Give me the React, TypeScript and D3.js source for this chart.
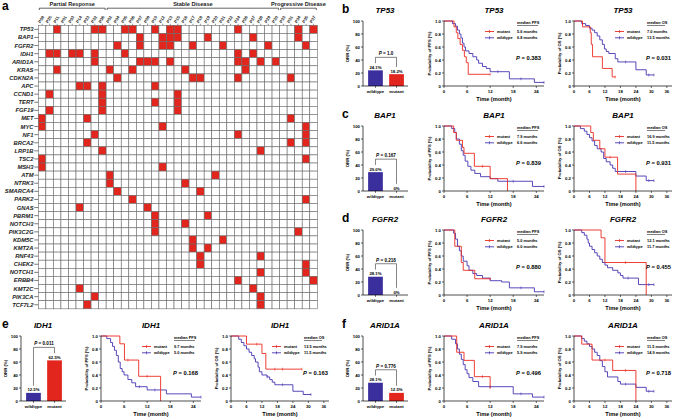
import React from 'react';
import * as d3 from 'd3';

const FONT = "Arial, 'Liberation Sans', Helvetica, sans-serif";
const RED = '#e2261d';
const BLUE = '#3b2f9e';
const LINE_RED = '#ec2a20';
const LINE_BLUE = '#4536b2';

// ---- panel a: mutation landscape ----
const genes = ['TP53', 'BAP1', 'FGFR2', 'IDH1', 'ARID1A', 'KRAS', 'CDKN2A', 'APC', 'CCND1', 'TERT', 'FGF19', 'MET', 'MYC', 'NF1', 'BRCA2', 'LRP1B', 'TSC2', 'MSH3', 'ATM', 'NTRK3', 'SMARCA4', 'PARK2', 'GNAS', 'PBRM1', 'NOTCH3', 'PIK3C2G', 'KDM5C', 'KMT2A', 'RNF43', 'CHEK2', 'NOTCH1', 'ERBB4', 'KMT2C', 'PIK3CA', 'TCF7L2'];
const patients = ['P08', 'P25', 'P11', 'P01', 'P03', 'P14', 'P23', 'P32', 'P36', 'P02', 'P04', 'P05', 'P06', 'P07', 'P09', 'P10', 'P12', 'P13', 'P15', 'P16', 'P17', 'P18', 'P19', 'P20', 'P21', 'P22', 'P24', 'P26', 'P27', 'P28', 'P29', 'P30', 'P33', 'P31', 'P34', 'P35', 'P37'];
const groups = [
  { label: 'Partial Response', from: 0, to: 8 },
  { label: 'Stable Disease', from: 9, to: 31 },
  { label: 'Progressive Disease', from: 32, to: 36 },
];
const mutatedCols: number[][] = [
  [2, 7, 8, 11, 12, 15, 17, 18, 26, 34, 36],
  [13, 16, 17, 18, 22, 28, 34],
  [10, 13, 16, 17, 20, 24, 30, 35],
  [1, 2, 4, 5, 7, 11, 26, 28],
  [7, 13, 14, 15, 17, 26, 27, 29, 31],
  [2, 9, 12, 19, 27],
  [10, 20, 21, 26, 33],
  [5, 6, 8, 15],
  [1, 8, 18],
  [8, 15, 18],
  [1, 8, 18],
  [0, 6, 33],
  [0, 16, 35],
  [7, 26, 35],
  [6, 33, 35],
  [8, 29],
  [0, 35],
  [0, 16],
  [9, 23],
  [9, 19],
  [10, 21],
  [12, 35],
  [5, 14],
  [15, 22],
  [15, 19],
  [15, 34],
  [20, 24],
  [20, 22],
  [21, 29],
  [21, 35],
  [29, 35],
  [26, 36],
  [5, 28],
  [7, 29],
  [6, 29],
];

// ---- panels b-f: ORR and survival by gene ----
const panelGenes = ['TP53', 'BAP1', 'FGFR2', 'IDH1', 'ARID1A'];
const panelLetters = ['b', 'c', 'd', 'e', 'f'];
const orrWildtype = [24.1, 29.0, 28.1, 12.5, 28.1];
const orrMutant = [18.2, 0, 0, 62.5, 12.5];
const orrP = ['1.0', '0.167', '0.218', '0.011', '0.776'];
const pfsMedMut = ['5.6', '7.9', '5.0', '9.7', '7.9'];
const pfsMedWt = ['6.8', '6.6', '6.0', '5.0', '5.9'];
const pfsP = ['0.383', '0.839', '0.880', '0.168', '0.496'];
const osMedMut = ['7.0', '16.9', '12.1', '13.5', '11.5'];
const osMedWt = ['13.5', '11.5', '11.7', '11.5', '14.9'];
const osP = ['0.031', '0.931', '0.455', '0.163', '0.718'];

const pfsMutant = [
  [[0, 1], [2.6, 0.91], [3.2, 0.82], [3.6, 0.73], [4.2, 0.64], [4.8, 0.55], [5.3, 0.45], [5.8, 0.36], [6.3, 0.18], [12, 0.18]],
  [[0, 1], [2.5, 0.9], [3.2, 0.78], [4.8, 0.67], [5.2, 0.58], [7.9, 0.38], [12, 0.19], [16.5, 0]],
  [[0, 1], [2.8, 0.75], [4.5, 0.5], [5, 0.38], [8, 0.25], [12, 0.25]],
  [[0, 1], [4.9, 0.88], [6.1, 0.63], [9.8, 0.38], [15.5, 0]],
  [[0, 1], [3.3, 0.75], [5.2, 0.625], [7.9, 0.375], [12, 0.19]],
];
const pfsWildtype = [
  [[0, 1], [2.2, 0.96], [3, 0.92], [3.5, 0.86], [4, 0.8], [4.4, 0.74], [4.8, 0.66], [5.2, 0.6], [5.6, 0.54], [6.5, 0.5], [7.5, 0.45], [8.5, 0.4], [9, 0.35], [10, 0.3], [11, 0.27], [12, 0.22], [17, 0.11], [23.5, 0.055], [26, 0.055]],
  [[0, 1], [2, 0.96], [2.8, 0.9], [3.2, 0.8], [4, 0.72], [4.5, 0.62], [5, 0.55], [5.5, 0.46], [6.2, 0.38], [7, 0.32], [8, 0.27], [9.5, 0.22], [12, 0.19], [14, 0.15], [23, 0.07], [26, 0.07]],
  [[0, 1], [2.5, 0.95], [3, 0.86], [3.5, 0.75], [4, 0.68], [4.5, 0.6], [5, 0.52], [6, 0.45], [6.5, 0.38], [7.5, 0.33], [8.5, 0.3], [10, 0.26], [12, 0.22], [15, 0.2], [17, 0.11], [23.5, 0.05], [26, 0.05]],
  [[0, 1], [1.5, 0.96], [2.5, 0.9], [3, 0.84], [3.5, 0.78], [4, 0.7], [4.5, 0.6], [5, 0.5], [5.5, 0.45], [6, 0.4], [7, 0.33], [8, 0.28], [9, 0.22], [12, 0.17], [17, 0.11], [23.5, 0.06], [26, 0.06]],
  [[0, 1], [2, 0.95], [3, 0.88], [3.5, 0.8], [4, 0.72], [4.5, 0.64], [5, 0.56], [5.5, 0.48], [6, 0.42], [6.5, 0.36], [7.5, 0.3], [9, 0.22], [18, 0.11], [23, 0.06], [26, 0.06]],
];
const osMutant = [
  [[0, 1], [3.3, 0.91], [6.3, 0.82], [6.7, 0.64], [7.2, 0.45], [11, 0.27], [14.8, 0.14], [16, 0.14]],
  [[0, 1], [6.5, 0.9], [7.5, 0.78], [10, 0.65], [12, 0.52], [16.9, 0.26], [24, 0]],
  [[0, 1], [10.5, 0.88], [12, 0.5], [28, 0]],
  [[0, 1], [6, 0.875], [12, 0.73], [13.5, 0.49], [27.5, 0.49]],
  [[0, 1], [3, 0.875], [7, 0.63], [15, 0.47], [24, 0]],
];
const osWildtype = [
  [[0, 1], [3, 0.96], [4.5, 0.93], [6, 0.89], [7, 0.86], [8, 0.82], [9, 0.77], [10, 0.71], [11, 0.64], [11.8, 0.57], [12.5, 0.53], [13.5, 0.5], [16, 0.42], [17, 0.37], [24, 0.25], [28, 0.17], [31, 0.17]],
  [[0, 1], [2.5, 0.96], [4, 0.92], [5, 0.87], [6, 0.82], [7, 0.77], [8, 0.7], [9, 0.65], [10.5, 0.6], [11.5, 0.5], [12.5, 0.45], [14, 0.4], [15, 0.35], [16, 0.3], [24, 0.23], [28, 0.16], [31, 0.16]],
  [[0, 1], [3, 0.96], [4, 0.92], [5, 0.86], [5.5, 0.8], [6, 0.75], [7, 0.7], [8, 0.65], [9, 0.6], [10, 0.55], [11, 0.5], [12, 0.46], [13, 0.42], [15, 0.38], [17, 0.34], [18, 0.3], [19, 0.26], [25, 0.16], [31, 0.16]],
  [[0, 1], [3, 0.95], [4, 0.9], [5, 0.85], [6, 0.8], [7, 0.75], [8, 0.7], [9, 0.65], [9.5, 0.6], [10.5, 0.52], [11, 0.45], [12, 0.4], [14, 0.37], [15, 0.33], [16, 0.29], [17, 0.25], [24, 0.15], [28, 0.1], [31, 0.1]],
  [[0, 1], [3, 0.96], [4, 0.92], [5, 0.88], [6, 0.84], [7, 0.8], [8, 0.75], [9, 0.7], [10, 0.62], [11, 0.53], [12, 0.45], [13, 0.37], [17, 0.3], [18, 0.26], [24, 0.21], [28, 0.15], [31, 0.15]],
];
// censored observations (months) seen as small ticks on the curves
const pfsCensorMut = [[12], [10], [12], [7, 12], [10]];
const pfsCensorWt = [[14, 20, 26], [18, 26], [20, 26], [10, 14, 26], [12, 20, 26]];
const osCensorMut = [[16], [14], [20], [10, 17, 20, 27.5], [12, 20]];
const osCensorWt = [[20, 29, 31], [20, 29, 31], [21, 29, 31], [14, 20, 31], [20, 29, 31]];

const pfsTicks = [0, 6, 12, 18, 24];
const osTicks = [0, 6, 12, 18, 24, 30, 36];
const survTicks = [0, 0.2, 0.4, 0.6, 0.8, 1.0];
const orrTicks = [0, 20, 40, 60, 80, 100];

// layout of each gene row: letter x, bar axis x, PFS axis x, OS axis x, top of plots
const layout = [
  { lx: 342, bar: 363, pfs: 444, os: 574, top: 21 },
  { lx: 342, bar: 363, pfs: 444, os: 574, top: 126 },
  { lx: 342, bar: 363, pfs: 444, os: 574, top: 230 },
  { lx: 2, bar: 21, pfs: 101, os: 231, top: 336 },
  { lx: 342, bar: 363, pfs: 444, os: 574, top: 336 },
];
const PH = 65;

function Heatmap() {
  const x = d3.scaleBand().domain(patients).range([38.3, 317.3]);
  const y = d3.scaleBand().domain(genes).range([25.3, 308.8]);
  const bw = x.bandwidth();
  const bh = y.bandwidth();
  return (
    <g>
      <text x={2} y={10} fontSize={12} fontWeight="bold">a</text>
      {groups.map(g => {
        const x0 = (x(patients[g.from]) as number) + 1;
        const x1 = (x(patients[g.to]) as number) + bw - 1;
        return (
          <g key={g.label}>
            <text x={(x0 + x1) / 2} y={5.5} fontSize={5.6} fontWeight="bold" textAnchor="middle" fill="#222">{g.label}</text>
            <path d={`M${x0},10 L${x0},8.2 L${x1},8.2 L${x1},10`} fill="none" stroke="#222" strokeWidth={0.7} />
          </g>
        );
      })}
      {patients.map(p => {
        const cx = (x(p) as number) + bw / 2;
        return (
          <g key={p}>
            <line x1={cx} x2={cx} y1={25.3} y2={23.8} stroke="#222" strokeWidth={0.5} />
            <text transform={`translate(${cx - 1.5},23.5) rotate(-60)`} fontSize={4.3} fontWeight="bold" fill="#222">{p}</text>
          </g>
        );
      })}
      {genes.map((gname, gi) => (
        <g key={gname}>
          {patients.map((p, pi) => (
            <rect key={p} x={x(p)} y={y(gname)} width={bw} height={bh}
              fill={mutatedCols[gi].includes(pi) ? RED : '#fff'} stroke="#6a6a6a" strokeWidth={0.6} />
          ))}
          <text x={33.5} y={(y(gname) as number) + bh / 2 + 2} fontSize={5.8} fontWeight="bold" fontStyle="italic" textAnchor="end" fill="#222">{gname}</text>
          <line x1={34.3} x2={38.3} y1={(y(gname) as number) + bh / 2} y2={(y(gname) as number) + bh / 2} stroke="#222" strokeWidth={0.6} />
        </g>
      ))}
    </g>
  );
}

function OrrBar({ i }: { i: number }) {
  const L = layout[i];
  const yS = d3.scaleLinear().domain([0, 100]).range([L.top + PH, L.top]);
  const xS = d3.scaleBand().domain(['wildtype', 'mutant']).range([L.bar + 3, L.bar + 43]).paddingInner(0.3).paddingOuter(0.1);
  const vals = [orrWildtype[i], orrMutant[i]];
  const bw = xS.bandwidth();
  const cx = (k: string) => (xS(k) as number) + bw / 2;
  const top = Math.max(...vals) + 20;
  const legL = Math.min(vals[0] + 11, top - 3);
  const legR = Math.min(vals[1] + 11, top - 3);
  return (
    <g>
      <text x={L.bar + 22} y={L.top - 8} fontSize={8} fontWeight="bold" fontStyle="italic" textAnchor="middle">{panelGenes[i]}</text>
      {['wildtype', 'mutant'].map((k, j) => (
        <g key={k}>
          <rect x={xS(k)} y={yS(vals[j])} width={bw} height={yS(0) - yS(vals[j])} fill={j === 0 ? BLUE : RED} />
          <text x={cx(k)} y={yS(vals[j]) - 1.5} fontSize={4.3} fontWeight="bold" textAnchor="middle">{`${vals[j].toFixed(vals[j] === 0 ? 0 : 1)}%`}</text>
          <line x1={cx(k)} x2={cx(k)} y1={L.top + PH} y2={L.top + PH + 1.8} stroke="#000" strokeWidth={0.6} />
          <text x={cx(k)} y={L.top + PH + 6.5} fontSize={4.3} fontWeight="bold" textAnchor="middle">{k}</text>
        </g>
      ))}
      <path d={`M${cx('wildtype')},${yS(legL)} L${cx('wildtype')},${yS(top)} L${cx('mutant')},${yS(top)} L${cx('mutant')},${yS(legR)}`} fill="none" stroke="#333" strokeWidth={0.6} />
      <text x={(cx('wildtype') + cx('mutant')) / 2} y={yS(top) - 2} fontSize={4.6} fontWeight="bold" textAnchor="middle">
        <tspan fontStyle="italic">P</tspan>{` = ${orrP[i]}`}
      </text>
      <line x1={L.bar} x2={L.bar} y1={L.top} y2={L.top + PH} stroke="#000" strokeWidth={0.7} />
      <line x1={L.bar} x2={L.bar + 45} y1={L.top + PH} y2={L.top + PH} stroke="#000" strokeWidth={0.7} />
      {orrTicks.map(t => (
        <g key={t}>
          <line x1={L.bar - 2} x2={L.bar} y1={yS(t)} y2={yS(t)} stroke="#000" strokeWidth={0.6} />
          <text x={L.bar - 3} y={yS(t) + 1.5} fontSize={4.3} fontWeight="bold" textAnchor="end">{t}</text>
        </g>
      ))}
      <text transform={`translate(${L.bar - 14},${L.top + PH / 2}) rotate(-90)`} fontSize={4.3} fontWeight="bold" textAnchor="middle">ORR (%)</text>
    </g>
  );
}

// survival value of a step curve at time t
function survAt(curve: number[][], t: number) {
  let s = curve[0][1];
  for (const [tt, v] of curve) if (tt <= t) s = v;
  return s;
}

function KMPlot({ i, kind }: { i: number; kind: 'PFS' | 'OS' }) {
  const L = layout[i];
  const isOS = kind === 'OS';
  const left = isOS ? L.os : L.pfs;
  const top = L.top;
  const width = isOS ? 98 : 100;
  const xS = d3.scaleLinear().domain([0, isOS ? 38 : 26]).range([left, left + width]);
  const yS = d3.scaleLinear().domain([0, 1]).range([top + PH, top]);
  const line = d3.line<number[]>().x(d => xS(d[0])).y(d => yS(d[1])).curve(d3.curveStepAfter);
  const mut = isOS ? osMutant[i] : pfsMutant[i];
  const wt = isOS ? osWildtype[i] : pfsWildtype[i];
  const cMut = isOS ? osCensorMut[i] : pfsCensorMut[i];
  const cWt = isOS ? osCensorWt[i] : pfsCensorWt[i];
  const ticks = isOS ? osTicks : pfsTicks;
  const lg = left + 73;
  const censor = (curve: number[][], times: number[], col: string) => times.map(t => (
    <line key={t} x1={xS(t)} x2={xS(t)} y1={yS(survAt(curve, t)) - 1.4} y2={yS(survAt(curve, t)) + 1.4} stroke={col} strokeWidth={0.6} />
  ));
  return (
    <g>
      <text x={left + width / 2} y={top - 8} fontSize={8} fontWeight="bold" fontStyle="italic" textAnchor="middle">{panelGenes[i]}</text>
      <path d={line(wt) as string} fill="none" stroke={LINE_BLUE} strokeWidth={0.9} />
      {censor(wt, cWt, LINE_BLUE)}
      <path d={line(mut) as string} fill="none" stroke={LINE_RED} strokeWidth={0.9} />
      {censor(mut, cMut, LINE_RED)}
      <line x1={left} x2={left} y1={top} y2={top + PH} stroke="#000" strokeWidth={0.7} />
      <line x1={left} x2={left + width} y1={top + PH} y2={top + PH} stroke="#000" strokeWidth={0.7} />
      {survTicks.map(t => (
        <g key={t}>
          <line x1={left - 2} x2={left} y1={yS(t)} y2={yS(t)} stroke="#000" strokeWidth={0.6} />
          <text x={left - 3} y={yS(t) + 1.5} fontSize={4.3} fontWeight="bold" textAnchor="end">{t === 0 ? '0' : t.toFixed(1)}</text>
        </g>
      ))}
      {ticks.map(t => (
        <g key={t}>
          <line x1={xS(t)} x2={xS(t)} y1={top + PH} y2={top + PH + 2} stroke="#000" strokeWidth={0.6} />
          <text x={xS(t)} y={top + PH + 6.8} fontSize={4.3} fontWeight="bold" textAnchor="middle">{t}</text>
        </g>
      ))}
      <text x={left + width / 2} y={top + PH + 15} fontSize={5.6} fontWeight="bold" textAnchor="middle">Time (month)</text>
      <text transform={`translate(${left - 13},${top + PH / 2}) rotate(-90)`} fontSize={4.2} fontWeight="bold" textAnchor="middle">{`Probability of ${kind} (%)`}</text>
      <text x={lg} y={top + 2.5} fontSize={3.9} fontWeight="bold">{`median ${kind}`}</text>
      <line x1={lg} x2={lg + (isOS ? 18 : 21)} y1={top + 4.5} y2={top + 4.5} stroke="#000" strokeWidth={0.5} />
      {[['mutant', LINE_RED, isOS ? osMedMut[i] : pfsMedMut[i]], ['wildtype', LINE_BLUE, isOS ? osMedWt[i] : pfsMedWt[i]]].map(([lab, col, med], j) => {
        const yy = top + 10.5 + j * 6.3;
        return (
          <g key={lab}>
            <line x1={left + 41} x2={left + 50} y1={yy} y2={yy} stroke={col} strokeWidth={0.9} />
            <line x1={left + 45.5} x2={left + 45.5} y1={yy - 1.5} y2={yy + 1.5} stroke={col} strokeWidth={0.7} />
            <text x={left + 53} y={yy + 1.4} fontSize={3.9} fontWeight="bold">{lab}</text>
            <text x={lg} y={yy + 1.4} fontSize={3.9} fontWeight="bold">{`${med} months`}</text>
          </g>
        );
      })}
      <text x={left + 97} y={top + 39} fontSize={5.8} fontWeight="bold" textAnchor="end">
        <tspan fontStyle="italic">P</tspan>{` = ${isOS ? osP[i] : pfsP[i]}`}
      </text>
    </g>
  );
}

export default function App() {
  return (
    <svg width={676} height={419} style={{ position: 'absolute', left: 0, top: 0, background: '#fff' }} fontFamily={FONT}>
      <rect width={676} height={419} fill="#fff" />
      <Heatmap />
      {panelGenes.map((g, i) => (
        <g key={g}>
          <text x={layout[i].lx} y={layout[i].top - 8} fontSize={12} fontWeight="bold">{panelLetters[i]}</text>
          <OrrBar i={i} />
          <KMPlot i={i} kind="PFS" />
          <KMPlot i={i} kind="OS" />
        </g>
      ))}
    </svg>
  );
}
